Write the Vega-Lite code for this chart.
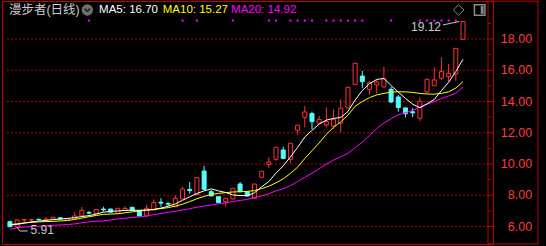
{
  "$schema": "https://vega.github.io/schema/vega-lite/v6.json",
  "width": 491,
  "height": 243,
  "autosize": "none",
  "padding": {"left": 2, "top": 1, "right": 53, "bottom": 2},
  "background": "#000000",
  "config": {"view": {"stroke": "#c00000", "strokeWidth": 1}},
  "datasets": {
    "k": [
    {"i":0,"o":6.31,"h":6.38,"l":5.96,"c":5.99,"m5":6.10,"m10":6.12,"m20":5.82,"s":0},
    {"i":1,"o":5.97,"h":6.45,"l":5.91,"c":6.42,"m5":6.14,"m10":6.18,"m20":5.92,"s":0},
    {"i":2,"o":6.42,"h":6.46,"l":6.27,"c":6.44,"m5":6.22,"m10":6.23,"m20":5.97,"s":0},
    {"i":3,"o":6.42,"h":6.46,"l":6.28,"c":6.44,"m5":6.30,"m10":6.27,"m20":6.00,"s":0},
    {"i":4,"o":6.46,"h":6.52,"l":6.40,"c":6.44,"m5":6.35,"m10":6.30,"m20":6.02,"s":0},
    {"i":5,"o":6.42,"h":6.62,"l":6.40,"c":6.47,"m5":6.40,"m10":6.32,"m20":6.05,"s":0},
    {"i":6,"o":6.48,"h":6.61,"l":6.47,"c":6.60,"m5":6.44,"m10":6.33,"m20":6.08,"s":0},
    {"i":7,"o":6.56,"h":6.58,"l":6.46,"c":6.48,"m5":6.48,"m10":6.36,"m20":6.10,"s":0},
    {"i":8,"o":6.41,"h":6.55,"l":6.38,"c":6.52,"m5":6.52,"m10":6.39,"m20":6.13,"s":0},
    {"i":9,"o":6.50,"h":6.92,"l":6.48,"c":6.68,"m5":6.57,"m10":6.45,"m20":6.17,"s":0},
    {"i":10,"o":6.68,"h":7.25,"l":6.66,"c":7.04,"m5":6.64,"m10":6.54,"m20":6.24,"s":0},
    {"i":11,"o":6.90,"h":7.00,"l":6.80,"c":6.86,"m5":6.70,"m10":6.63,"m20":6.30,"s":1},
    {"i":12,"o":6.82,"h":7.12,"l":6.80,"c":7.10,"m5":6.80,"m10":6.71,"m20":6.33,"s":0},
    {"i":13,"o":7.12,"h":7.27,"l":6.95,"c":7.07,"m5":6.92,"m10":6.78,"m20":6.36,"s":0},
    {"i":14,"o":7.12,"h":7.14,"l":6.90,"c":6.92,"m5":6.97,"m10":6.80,"m20":6.42,"s":0},
    {"i":15,"o":6.85,"h":7.18,"l":6.83,"c":7.17,"m5":7.00,"m10":6.82,"m20":6.48,"s":0},
    {"i":16,"o":7.03,"h":7.31,"l":7.00,"c":7.16,"m5":7.03,"m10":6.88,"m20":6.53,"s":0},
    {"i":17,"o":7.23,"h":7.27,"l":7.00,"c":7.03,"m5":7.05,"m10":6.94,"m20":6.58,"s":0},
    {"i":18,"o":7.02,"h":7.05,"l":6.66,"c":6.68,"m5":7.04,"m10":6.99,"m20":6.62,"s":0},
    {"i":19,"o":6.68,"h":7.40,"l":6.65,"c":7.17,"m5":7.06,"m10":7.04,"m20":6.68,"s":0},
    {"i":20,"o":7.06,"h":7.74,"l":7.04,"c":7.53,"m5":7.10,"m10":7.09,"m20":6.76,"s":0},
    {"i":21,"o":7.56,"h":7.81,"l":7.27,"c":7.50,"m5":7.18,"m10":7.15,"m20":6.84,"s":0},
    {"i":22,"o":7.47,"h":7.55,"l":7.30,"c":7.43,"m5":7.30,"m10":7.21,"m20":6.91,"s":0},
    {"i":23,"o":7.27,"h":8.00,"l":7.25,"c":7.81,"m5":7.45,"m10":7.31,"m20":6.98,"s":0},
    {"i":24,"o":7.76,"h":8.55,"l":7.74,"c":8.40,"m5":7.68,"m10":7.43,"m20":7.06,"s":1},
    {"i":25,"o":8.38,"h":8.85,"l":8.10,"c":8.30,"m5":7.90,"m10":7.60,"m20":7.14,"s":0},
    {"i":26,"o":8.05,"h":9.15,"l":8.00,"c":9.13,"m5":8.12,"m10":7.78,"m20":7.24,"s":1},
    {"i":27,"o":9.55,"h":9.87,"l":8.36,"c":8.38,"m5":8.28,"m10":7.93,"m20":7.31,"s":0},
    {"i":28,"o":8.23,"h":8.34,"l":7.94,"c":7.96,"m5":8.41,"m10":8.06,"m20":7.38,"s":0},
    {"i":29,"o":7.91,"h":7.93,"l":7.50,"c":7.53,"m5":8.28,"m10":8.12,"m20":7.46,"s":0},
    {"i":30,"o":7.59,"h":7.83,"l":7.27,"c":7.81,"m5":8.18,"m10":8.17,"m20":7.52,"s":0},
    {"i":31,"o":7.76,"h":8.47,"l":7.74,"c":8.45,"m5":8.02,"m10":8.21,"m20":7.60,"s":1},
    {"i":32,"o":8.72,"h":8.85,"l":8.20,"c":8.23,"m5":7.99,"m10":8.23,"m20":7.67,"s":0},
    {"i":33,"o":8.23,"h":8.25,"l":7.94,"c":7.96,"m5":7.97,"m10":8.25,"m20":7.74,"s":0},
    {"i":34,"o":7.81,"h":8.74,"l":7.79,"c":8.72,"m5":8.16,"m10":8.30,"m20":7.85,"s":0},
    {"i":35,"o":9.15,"h":9.56,"l":9.12,"c":9.54,"m5":8.54,"m10":8.43,"m20":7.96,"s":0},
    {"i":36,"o":9.97,"h":10.43,"l":9.75,"c":10.13,"m5":8.88,"m10":8.58,"m20":8.10,"s":1},
    {"i":37,"o":10.30,"h":11.08,"l":10.20,"c":11.07,"m5":9.42,"m10":8.80,"m20":8.28,"s":1},
    {"i":38,"o":10.90,"h":11.11,"l":10.34,"c":10.36,"m5":9.88,"m10":9.05,"m20":8.42,"s":0},
    {"i":39,"o":10.30,"h":11.35,"l":10.05,"c":11.33,"m5":10.45,"m10":9.40,"m20":8.62,"s":1},
    {"i":40,"o":12.16,"h":12.50,"l":11.86,"c":12.48,"m5":11.06,"m10":9.80,"m20":8.88,"s":1},
    {"i":41,"o":12.99,"h":13.71,"l":12.35,"c":13.33,"m5":11.73,"m10":10.35,"m20":9.15,"s":1},
    {"i":42,"o":13.23,"h":13.35,"l":12.24,"c":12.71,"m5":12.15,"m10":10.85,"m20":9.42,"s":1},
    {"i":43,"o":12.61,"h":13.07,"l":12.59,"c":12.86,"m5":12.56,"m10":11.35,"m20":9.70,"s":0},
    {"i":44,"o":12.50,"h":13.63,"l":12.35,"c":12.72,"m5":12.81,"m10":11.90,"m20":10.00,"s":1},
    {"i":45,"o":12.43,"h":13.50,"l":12.24,"c":12.86,"m5":12.92,"m10":12.35,"m20":10.25,"s":1},
    {"i":46,"o":12.61,"h":14.14,"l":12.05,"c":13.57,"m5":12.98,"m10":12.70,"m20":10.47,"s":1},
    {"i":47,"o":13.59,"h":14.93,"l":13.57,"c":14.91,"m5":13.36,"m10":13.13,"m20":10.68,"s":1},
    {"i":48,"o":15.10,"h":16.47,"l":15.08,"c":16.45,"m5":14.10,"m10":13.70,"m20":11.05,"s":1},
    {"i":49,"o":15.63,"h":15.95,"l":14.85,"c":15.27,"m5":14.70,"m10":14.00,"m20":11.40,"s":1},
    {"i":50,"o":14.78,"h":15.31,"l":14.45,"c":15.20,"m5":15.14,"m10":14.25,"m20":11.83,"s":0},
    {"i":51,"o":15.06,"h":15.38,"l":14.51,"c":15.25,"m5":15.41,"m10":14.42,"m20":12.27,"s":0},
    {"i":52,"o":14.93,"h":16.21,"l":14.91,"c":15.44,"m5":15.48,"m10":14.52,"m20":12.62,"s":0},
    {"i":53,"o":14.78,"h":14.93,"l":13.90,"c":13.97,"m5":15.02,"m10":14.60,"m20":12.90,"s":1},
    {"i":54,"o":14.29,"h":14.42,"l":13.35,"c":13.62,"m5":14.60,"m10":14.62,"m20":13.15,"s":0},
    {"i":55,"o":13.59,"h":13.62,"l":12.98,"c":13.22,"m5":14.20,"m10":14.62,"m20":13.28,"s":0},
    {"i":56,"o":13.34,"h":13.57,"l":13.00,"c":13.28,"m5":13.83,"m10":14.58,"m20":13.43,"s":0},
    {"i":57,"o":12.93,"h":14.27,"l":12.77,"c":14.01,"m5":13.60,"m10":14.52,"m20":13.66,"s":1},
    {"i":58,"o":14.61,"h":15.44,"l":14.58,"c":15.42,"m5":13.85,"m10":14.48,"m20":13.82,"s":1},
    {"i":59,"o":15.01,"h":16.19,"l":14.98,"c":15.38,"m5":14.13,"m10":14.47,"m20":14.00,"s":1},
    {"i":60,"o":15.49,"h":16.83,"l":15.40,"c":15.91,"m5":14.70,"m10":14.52,"m20":14.20,"s":1},
    {"i":61,"o":15.59,"h":16.40,"l":15.27,"c":15.81,"m5":15.23,"m10":14.62,"m20":14.35,"s":1},
    {"i":62,"o":15.76,"h":17.42,"l":15.33,"c":17.40,"m5":15.92,"m10":14.86,"m20":14.54,"s":1},
    {"i":63,"o":17.98,"h":19.12,"l":17.95,"c":19.12,"m5":16.70,"m10":15.27,"m20":14.92,"s":0}
    ],
    "grid": [{"g": 6}, {"g": 8}, {"g": 10}, {"g": 12}, {"g": 14}, {"g": 16}, {"g": 18}],
    "minor": [{"g": 7}, {"g": 9}, {"g": 11}, {"g": 13}, {"g": 15}, {"g": 17}, {"g": 19}]
  },
  "data": {"name": "k"},
  "layer": [
    {
      "data": {"name": "grid"},
      "layer": [
        {
          "mark": {"type": "rule", "color": "#b00000", "strokeWidth": 1, "strokeDash": [2, 2]},
          "encoding": {
            "x": {"datum": -0.409, "type": "quantitative", "scale": {"domain": [-0.409, 66.476], "nice": false, "zero": false}, "axis": null},
            "x2": {"datum": 66.3},
            "y": {"field": "g", "type": "quantitative", "scale": {"domain": [4.884, 20.431], "nice": false, "zero": false}, "axis": null}
          }
        },
        {
          "mark": {"type": "rule", "color": "#c00000", "strokeWidth": 1},
          "encoding": {
            "x": {"datum": 66.3, "type": "quantitative", "axis": null},
            "x2": {"datum": 67.2},
            "y": {"field": "g", "type": "quantitative", "axis": null}
          }
        },
        {
          "mark": {"type": "text", "align": "right", "baseline": "middle", "font": "Liberation Sans", "fontSize": 12.5, "color": "#ff3c3c"},
          "encoding": {
            "x": {"datum": 72.61, "type": "quantitative", "axis": null},
            "y": {"field": "g", "type": "quantitative", "axis": null},
            "text": {"field": "g", "type": "quantitative", "format": ".2f"}
          }
        }
      ]
    },
    {
      "data": {"name": "minor"},
      "mark": {"type": "rule", "color": "#c00000", "strokeWidth": 1},
      "encoding": {
        "x": {"datum": 66.476, "type": "quantitative", "axis": null},
        "x2": {"datum": 66.9},
        "y": {"field": "g", "type": "quantitative", "axis": null}
      }
    },
    {
      "mark": {"type": "rule", "strokeWidth": 1},
      "encoding": {
        "x": {"field": "i", "type": "quantitative", "axis": null},
        "y": {"field": "l", "type": "quantitative", "axis": null},
        "y2": {"field": "h"},
        "color": {"condition": {"test": "datum.c >= datum.o", "value": "#ff3232"}, "value": "#54ffff"}
      }
    },
    {
      "mark": {"type": "bar", "width": 4, "strokeWidth": 1},
      "encoding": {
        "x": {"field": "i", "type": "quantitative", "axis": null},
        "y": {"field": "o", "type": "quantitative", "axis": null},
        "y2": {"field": "c"},
        "fill": {"condition": {"test": "datum.c >= datum.o", "value": "#000000"}, "value": "#54ffff"},
        "stroke": {"condition": {"test": "datum.c >= datum.o", "value": "#ff3232"}, "value": "#54ffff"}
      }
    },
    {
      "mark": {"type": "line", "color": "#ff00ff", "strokeWidth": 1},
      "encoding": {"x": {"field": "i", "type": "quantitative", "axis": null}, "y": {"field": "m20", "type": "quantitative", "axis": null}}
    },
    {
      "mark": {"type": "line", "color": "#ffff00", "strokeWidth": 1},
      "encoding": {"x": {"field": "i", "type": "quantitative", "axis": null}, "y": {"field": "m10", "type": "quantitative", "axis": null}}
    },
    {
      "mark": {"type": "line", "color": "#ffffff", "strokeWidth": 1},
      "encoding": {"x": {"field": "i", "type": "quantitative", "axis": null}, "y": {"field": "m5", "type": "quantitative", "axis": null}}
    },
    {
      "transform": [{"filter": "datum.s == 1"}],
      "mark": {"type": "point", "shape": "square", "filled": true, "size": 4, "color": "#ff00ff", "opacity": 1},
      "encoding": {"x": {"field": "i", "type": "quantitative", "axis": null}, "y": {"datum": 19.18, "type": "quantitative", "axis": null}}
    },
    {
      "transform": [{"filter": "datum.i == 0"}],
      "layer": [
        {
          "mark": {"type": "rule", "color": "#c00000", "strokeWidth": 1},
          "encoding": {"x": {"datum": 66.476, "type": "quantitative", "axis": null}, "y": {"datum": 4.89, "type": "quantitative", "axis": null}, "y2": {"datum": 20.42}}
        },
        {
          "mark": {"type": "rule", "color": "#c00000", "strokeWidth": 1},
          "encoding": {"x": {"datum": 66.476, "type": "quantitative", "axis": null}, "x2": {"datum": 73.56}, "y": {"datum": 20.42, "type": "quantitative", "axis": null}}
        },
        {
          "mark": {"type": "rule", "color": "#c00000", "strokeWidth": 1},
          "encoding": {"x": {"datum": 66.476, "type": "quantitative", "axis": null}, "x2": {"datum": 73.56}, "y": {"datum": 4.89, "type": "quantitative", "axis": null}}
        },
        {
          "mark": {"type": "rule", "color": "#c00000", "strokeWidth": 1},
          "encoding": {"x": {"datum": 73.42, "type": "quantitative", "axis": null}, "y": {"datum": 4.89, "type": "quantitative", "axis": null}, "y2": {"datum": 20.42}}
        },
        {
          "mark": {"type": "text", "align": "left", "baseline": "middle", "font": "Liberation Sans, Noto Sans CJK SC", "fontSize": 12.5, "color": "#cccccc"},
          "encoding": {"x": {"datum": -0.14, "type": "quantitative", "axis": null}, "y": {"datum": 19.855, "type": "quantitative", "axis": null}, "text": {"value": "漫步者(日线)"}}
        },
        {
          "mark": {"type": "point", "shape": "circle", "filled": true, "size": 130, "color": "#707070", "opacity": 1},
          "encoding": {"x": {"datum": 10.76, "type": "quantitative", "axis": null}, "y": {"datum": 19.855, "type": "quantitative", "axis": null}}
        },
        {
          "mark": {"type": "rule", "color": "#1a1a1a", "strokeWidth": 1.5},
          "encoding": {"x": {"datum": 10.38, "type": "quantitative", "axis": null}, "x2": {"datum": 10.76}, "y": {"datum": 19.95, "type": "quantitative", "axis": null}, "y2": {"datum": 19.76}}
        },
        {
          "mark": {"type": "rule", "color": "#1a1a1a", "strokeWidth": 1.5},
          "encoding": {"x": {"datum": 10.76, "type": "quantitative", "axis": null}, "x2": {"datum": 11.14}, "y": {"datum": 19.76, "type": "quantitative", "axis": null}, "y2": {"datum": 19.95}}
        },
        {
          "mark": {"type": "text", "align": "left", "baseline": "middle", "font": "Liberation Sans", "fontSize": 11.5, "color": "#ffffff"},
          "encoding": {"x": {"datum": 12.4, "type": "quantitative", "axis": null}, "y": {"datum": 19.855, "type": "quantitative", "axis": null}, "text": {"value": "MA5: 16.70"}}
        },
        {
          "mark": {"type": "text", "align": "left", "baseline": "middle", "font": "Liberation Sans", "fontSize": 11.5, "color": "#ffff00"},
          "encoding": {"x": {"datum": 21.25, "type": "quantitative", "axis": null}, "y": {"datum": 19.855, "type": "quantitative", "axis": null}, "text": {"value": "MA10: 15.27"}}
        },
        {
          "mark": {"type": "text", "align": "left", "baseline": "middle", "font": "Liberation Sans", "fontSize": 11.5, "color": "#ff00ff"},
          "encoding": {"x": {"datum": 30.75, "type": "quantitative", "axis": null}, "y": {"datum": 19.855, "type": "quantitative", "axis": null}, "text": {"value": "MA20: 14.92"}}
        },
        {
          "mark": {"type": "point", "shape": "diamond", "filled": false, "size": 110, "color": "#8a8a8a", "strokeWidth": 1, "opacity": 1},
          "encoding": {"x": {"datum": 62.39, "type": "quantitative", "axis": null}, "y": {"datum": 19.855, "type": "quantitative", "axis": null}}
        },
        {
          "mark": {"type": "point", "shape": "square", "filled": false, "size": 110, "color": "#8a8a8a", "strokeWidth": 1.5, "opacity": 1},
          "encoding": {"x": {"datum": 65.32, "type": "quantitative", "axis": null}, "y": {"datum": 19.855, "type": "quantitative", "axis": null}}
        },
        {
          "mark": {"type": "point", "shape": "M0.2,-0.75H0.75V0.75H0.2Z", "filled": true, "size": 110, "color": "#8a8a8a", "opacity": 1},
          "encoding": {"x": {"datum": 65.32, "type": "quantitative", "axis": null}, "y": {"datum": 19.855, "type": "quantitative", "axis": null}}
        },
        {
          "mark": {"type": "text", "align": "right", "baseline": "middle", "font": "Liberation Sans", "fontSize": 12, "color": "#c8c8c8"},
          "encoding": {"x": {"datum": 59.94, "type": "quantitative", "axis": null}, "y": {"datum": 18.77, "type": "quantitative", "axis": null}, "text": {"value": "19.12"}}
        },
        {
          "mark": {"type": "rule", "color": "#c8c8c8", "strokeWidth": 1},
          "encoding": {"x": {"datum": 60.21, "type": "quantitative", "axis": null}, "x2": {"datum": 62.5}, "y": {"datum": 18.9, "type": "quantitative", "axis": null}, "y2": {"datum": 19.12}}
        },
        {
          "mark": {"type": "text", "align": "left", "baseline": "middle", "font": "Liberation Sans", "fontSize": 12, "color": "#c8c8c8"},
          "encoding": {"x": {"datum": 2.86, "type": "quantitative", "axis": null}, "y": {"datum": 5.78, "type": "quantitative", "axis": null}, "text": {"value": "5.91"}}
        },
        {
          "mark": {"type": "rule", "color": "#c8c8c8", "strokeWidth": 1},
          "encoding": {"x": {"datum": 1.36, "type": "quantitative", "axis": null}, "x2": {"datum": 2.45}, "y": {"datum": 5.716, "type": "quantitative", "axis": null}, "y2": {"datum": 5.716}}
        },
        {
          "mark": {"type": "rule", "color": "#c8c8c8", "strokeWidth": 1},
          "encoding": {"x": {"datum": 0.95, "type": "quantitative", "axis": null}, "x2": {"datum": 1.36}, "y": {"datum": 5.99, "type": "quantitative", "axis": null}, "y2": {"datum": 5.716}}
        }
      ]
    }
  ]
}
